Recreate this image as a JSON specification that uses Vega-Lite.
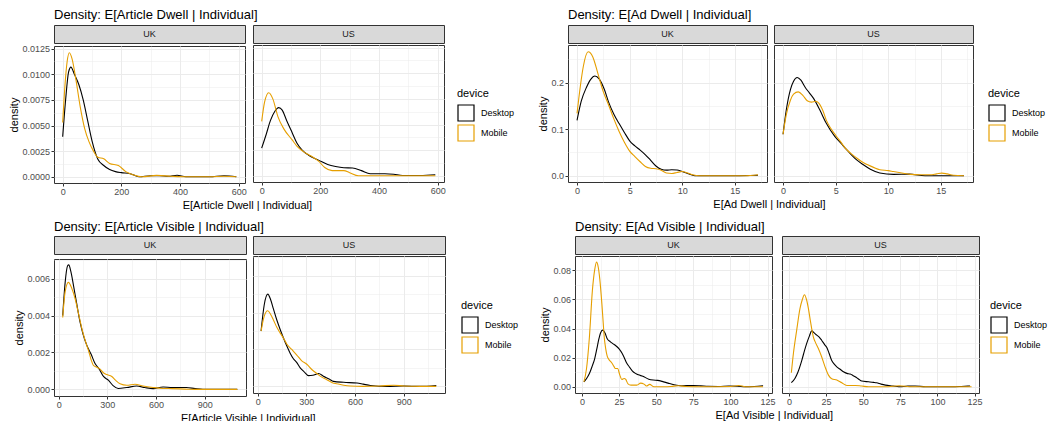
{
"$schema": "https://vega.github.io/schema/vega-lite/v6.json",
"padding": {"left": 8, "top": 8, "right": 0, "bottom": 0},
"config": {
 "font": "Liberation Sans",
 "view": {"stroke": "#333333", "strokeWidth": 1},
 "axis": {"domain": false, "labelFontSize": 9, "labelColor": "#4D4D4D", "tickColor": "#333333", "tickSize": 3, "labelPadding": 1.5, "gridColor": "#EBEBEB", "titleFontSize": 11, "titleFontWeight": "normal", "titleColor": "#000000", "labelOverlap": false, "labelFlush": false, "titlePadding": 2},
 "title": {"fontSize": 13, "fontWeight": "normal", "anchor": "start", "color": "#000000"},
 "legend": {"titleFontSize": 11, "titleFontWeight": "normal", "titleColor": "#000000", "labelFontSize": 9, "labelColor": "#000000", "symbolType": "square", "symbolSize": 256, "symbolStrokeWidth": 1.2, "symbolFillColor": "transparent", "rowPadding": -12, "titlePadding": 5, "labelOffset": 6}
},
"datasets": {
 "ad": [
  {"r":"UK","d":"Desktop","x":0,"y":0.0039},{"r":"UK","d":"Desktop","x":10,"y":0.0075},{"r":"UK","d":"Desktop","x":20,"y":0.0102},{"r":"UK","d":"Desktop","x":28,"y":0.0107},{"r":"UK","d":"Desktop","x":40,"y":0.0100},{"r":"UK","d":"Desktop","x":55,"y":0.0090},{"r":"UK","d":"Desktop","x":70,"y":0.0075},{"r":"UK","d":"Desktop","x":85,"y":0.0055},{"r":"UK","d":"Desktop","x":100,"y":0.0035},{"r":"UK","d":"Desktop","x":120,"y":0.0017},{"r":"UK","d":"Desktop","x":140,"y":0.0011},{"r":"UK","d":"Desktop","x":160,"y":0.0007},{"r":"UK","d":"Desktop","x":180,"y":0.0005},{"r":"UK","d":"Desktop","x":200,"y":0.0004},{"r":"UK","d":"Desktop","x":230,"y":0.0003},{"r":"UK","d":"Desktop","x":260,"y":0.0},{"r":"UK","d":"Desktop","x":300,"y":0.0001},{"r":"UK","d":"Desktop","x":330,"y":0.0001},{"r":"UK","d":"Desktop","x":360,"y":0.00005},{"r":"UK","d":"Desktop","x":390,"y":0.00015},{"r":"UK","d":"Desktop","x":420,"y":0.0},{"r":"UK","d":"Desktop","x":500,"y":0.0},{"r":"UK","d":"Desktop","x":550,"y":0.0001},{"r":"UK","d":"Desktop","x":592,"y":0.0},
  {"r":"UK","d":"Mobile","x":0,"y":0.0053},{"r":"UK","d":"Mobile","x":8,"y":0.0090},{"r":"UK","d":"Mobile","x":15,"y":0.0112},{"r":"UK","d":"Mobile","x":23,"y":0.0121},{"r":"UK","d":"Mobile","x":32,"y":0.0115},{"r":"UK","d":"Mobile","x":45,"y":0.0095},{"r":"UK","d":"Mobile","x":60,"y":0.0068},{"r":"UK","d":"Mobile","x":75,"y":0.0047},{"r":"UK","d":"Mobile","x":90,"y":0.0034},{"r":"UK","d":"Mobile","x":105,"y":0.0025},{"r":"UK","d":"Mobile","x":120,"y":0.0019},{"r":"UK","d":"Mobile","x":140,"y":0.00175},{"r":"UK","d":"Mobile","x":160,"y":0.0013},{"r":"UK","d":"Mobile","x":190,"y":0.0011},{"r":"UK","d":"Mobile","x":215,"y":0.0005},{"r":"UK","d":"Mobile","x":240,"y":0.0002},{"r":"UK","d":"Mobile","x":270,"y":0.0},{"r":"UK","d":"Mobile","x":320,"y":0.00013},{"r":"UK","d":"Mobile","x":370,"y":0.00005},{"r":"UK","d":"Mobile","x":420,"y":0.0},{"r":"UK","d":"Mobile","x":500,"y":0.0},{"r":"UK","d":"Mobile","x":550,"y":0.00005},{"r":"UK","d":"Mobile","x":592,"y":0.0},
  {"r":"US","d":"Desktop","x":0,"y":0.0027},{"r":"US","d":"Desktop","x":15,"y":0.0040},{"r":"US","d":"Desktop","x":30,"y":0.0054},{"r":"US","d":"Desktop","x":45,"y":0.0063},{"r":"US","d":"Desktop","x":58,"y":0.00665},{"r":"US","d":"Desktop","x":70,"y":0.0064},{"r":"US","d":"Desktop","x":85,"y":0.0054},{"r":"US","d":"Desktop","x":104,"y":0.0042},{"r":"US","d":"Desktop","x":120,"y":0.0032},{"r":"US","d":"Desktop","x":138,"y":0.0025},{"r":"US","d":"Desktop","x":160,"y":0.0020},{"r":"US","d":"Desktop","x":195,"y":0.0015},{"r":"US","d":"Desktop","x":225,"y":0.0011},{"r":"US","d":"Desktop","x":252,"y":0.0009},{"r":"US","d":"Desktop","x":280,"y":0.00078},{"r":"US","d":"Desktop","x":310,"y":0.00075},{"r":"US","d":"Desktop","x":340,"y":0.0005},{"r":"US","d":"Desktop","x":370,"y":0.0002},{"r":"US","d":"Desktop","x":420,"y":0.0002},{"r":"US","d":"Desktop","x":450,"y":0.00015},{"r":"US","d":"Desktop","x":480,"y":0.00002},{"r":"US","d":"Desktop","x":540,"y":0.00003},{"r":"US","d":"Desktop","x":592,"y":0.0001},
  {"r":"US","d":"Mobile","x":0,"y":0.0053},{"r":"US","d":"Mobile","x":10,"y":0.0072},{"r":"US","d":"Mobile","x":24,"y":0.0081},{"r":"US","d":"Mobile","x":38,"y":0.0075},{"r":"US","d":"Mobile","x":55,"y":0.0058},{"r":"US","d":"Mobile","x":75,"y":0.0046},{"r":"US","d":"Mobile","x":104,"y":0.0035},{"r":"US","d":"Mobile","x":120,"y":0.0029},{"r":"US","d":"Mobile","x":140,"y":0.0024},{"r":"US","d":"Mobile","x":170,"y":0.0019},{"r":"US","d":"Mobile","x":195,"y":0.0014},{"r":"US","d":"Mobile","x":215,"y":0.0008},{"r":"US","d":"Mobile","x":240,"y":0.0005},{"r":"US","d":"Mobile","x":280,"y":0.0005},{"r":"US","d":"Mobile","x":300,"y":0.0003},{"r":"US","d":"Mobile","x":330,"y":0.0},{"r":"US","d":"Mobile","x":400,"y":0.0},{"r":"US","d":"Mobile","x":592,"y":0.0}
 ],
 "dd": [
  {"r":"UK","d":"Desktop","x":0,"y":0.119},{"r":"UK","d":"Desktop","x":0.4,"y":0.16},{"r":"UK","d":"Desktop","x":0.9,"y":0.19},{"r":"UK","d":"Desktop","x":1.3,"y":0.207},{"r":"UK","d":"Desktop","x":1.7,"y":0.214},{"r":"UK","d":"Desktop","x":2.1,"y":0.208},{"r":"UK","d":"Desktop","x":2.6,"y":0.185},{"r":"UK","d":"Desktop","x":3.0,"y":0.158},{"r":"UK","d":"Desktop","x":3.5,"y":0.132},{"r":"UK","d":"Desktop","x":4.0,"y":0.112},{"r":"UK","d":"Desktop","x":4.5,"y":0.093},{"r":"UK","d":"Desktop","x":5.0,"y":0.075},{"r":"UK","d":"Desktop","x":5.5,"y":0.064},{"r":"UK","d":"Desktop","x":6.0,"y":0.055},{"r":"UK","d":"Desktop","x":6.5,"y":0.045},{"r":"UK","d":"Desktop","x":7.0,"y":0.033},{"r":"UK","d":"Desktop","x":7.5,"y":0.021},{"r":"UK","d":"Desktop","x":8.0,"y":0.014},{"r":"UK","d":"Desktop","x":8.5,"y":0.012},{"r":"UK","d":"Desktop","x":9.0,"y":0.013},{"r":"UK","d":"Desktop","x":9.5,"y":0.0125},{"r":"UK","d":"Desktop","x":10,"y":0.009},{"r":"UK","d":"Desktop","x":10.5,"y":0.005},{"r":"UK","d":"Desktop","x":11.2,"y":0.0},{"r":"UK","d":"Desktop","x":13,"y":0.0},{"r":"UK","d":"Desktop","x":15,"y":0.0},{"r":"UK","d":"Desktop","x":17.2,"y":0.001},
  {"r":"UK","d":"Mobile","x":0,"y":0.134},{"r":"UK","d":"Mobile","x":0.3,"y":0.19},{"r":"UK","d":"Mobile","x":0.6,"y":0.235},{"r":"UK","d":"Mobile","x":1.05,"y":0.266},{"r":"UK","d":"Mobile","x":1.5,"y":0.255},{"r":"UK","d":"Mobile","x":2.0,"y":0.218},{"r":"UK","d":"Mobile","x":2.5,"y":0.18},{"r":"UK","d":"Mobile","x":3.0,"y":0.152},{"r":"UK","d":"Mobile","x":3.5,"y":0.122},{"r":"UK","d":"Mobile","x":4.0,"y":0.095},{"r":"UK","d":"Mobile","x":4.5,"y":0.072},{"r":"UK","d":"Mobile","x":5.0,"y":0.053},{"r":"UK","d":"Mobile","x":5.5,"y":0.041},{"r":"UK","d":"Mobile","x":6.0,"y":0.03},{"r":"UK","d":"Mobile","x":6.5,"y":0.02},{"r":"UK","d":"Mobile","x":7.0,"y":0.016},{"r":"UK","d":"Mobile","x":7.5,"y":0.015},{"r":"UK","d":"Mobile","x":8.0,"y":0.012},{"r":"UK","d":"Mobile","x":8.5,"y":0.006},{"r":"UK","d":"Mobile","x":9.0,"y":0.005},{"r":"UK","d":"Mobile","x":9.5,"y":0.007},{"r":"UK","d":"Mobile","x":10.0,"y":0.009},{"r":"UK","d":"Mobile","x":10.5,"y":0.006},{"r":"UK","d":"Mobile","x":11.0,"y":0.002},{"r":"UK","d":"Mobile","x":11.6,"y":0.0},{"r":"UK","d":"Mobile","x":13,"y":0.0},{"r":"UK","d":"Mobile","x":16,"y":0.0},{"r":"UK","d":"Mobile","x":17.2,"y":0.002},
  {"r":"US","d":"Desktop","x":0,"y":0.089},{"r":"US","d":"Desktop","x":0.3,"y":0.14},{"r":"US","d":"Desktop","x":0.7,"y":0.185},{"r":"US","d":"Desktop","x":1.0,"y":0.203},{"r":"US","d":"Desktop","x":1.35,"y":0.211},{"r":"US","d":"Desktop","x":1.7,"y":0.205},{"r":"US","d":"Desktop","x":2.1,"y":0.19},{"r":"US","d":"Desktop","x":2.5,"y":0.178},{"r":"US","d":"Desktop","x":2.9,"y":0.166},{"r":"US","d":"Desktop","x":3.5,"y":0.141},{"r":"US","d":"Desktop","x":4.1,"y":0.113},{"r":"US","d":"Desktop","x":4.9,"y":0.085},{"r":"US","d":"Desktop","x":5.5,"y":0.07},{"r":"US","d":"Desktop","x":6.0,"y":0.057},{"r":"US","d":"Desktop","x":6.5,"y":0.045},{"r":"US","d":"Desktop","x":7.0,"y":0.034},{"r":"US","d":"Desktop","x":7.6,"y":0.024},{"r":"US","d":"Desktop","x":8.3,"y":0.014},{"r":"US","d":"Desktop","x":9.2,"y":0.006},{"r":"US","d":"Desktop","x":10.5,"y":0.003},{"r":"US","d":"Desktop","x":12.0,"y":0.0035},{"r":"US","d":"Desktop","x":13.5,"y":0.0},{"r":"US","d":"Desktop","x":15,"y":0.0},{"r":"US","d":"Desktop","x":17.2,"y":0.0},
  {"r":"US","d":"Mobile","x":0,"y":0.089},{"r":"US","d":"Mobile","x":0.3,"y":0.13},{"r":"US","d":"Mobile","x":0.7,"y":0.162},{"r":"US","d":"Mobile","x":1.0,"y":0.175},{"r":"US","d":"Mobile","x":1.45,"y":0.18},{"r":"US","d":"Mobile","x":1.9,"y":0.172},{"r":"US","d":"Mobile","x":2.3,"y":0.161},{"r":"US","d":"Mobile","x":2.7,"y":0.158},{"r":"US","d":"Mobile","x":3.1,"y":0.16},{"r":"US","d":"Mobile","x":3.4,"y":0.156},{"r":"US","d":"Mobile","x":3.8,"y":0.139},{"r":"US","d":"Mobile","x":4.1,"y":0.12},{"r":"US","d":"Mobile","x":4.5,"y":0.103},{"r":"US","d":"Mobile","x":5.0,"y":0.087},{"r":"US","d":"Mobile","x":5.5,"y":0.072},{"r":"US","d":"Mobile","x":6.0,"y":0.057},{"r":"US","d":"Mobile","x":6.5,"y":0.047},{"r":"US","d":"Mobile","x":7.0,"y":0.038},{"r":"US","d":"Mobile","x":7.5,"y":0.03},{"r":"US","d":"Mobile","x":8.0,"y":0.024},{"r":"US","d":"Mobile","x":8.6,"y":0.018},{"r":"US","d":"Mobile","x":9.2,"y":0.013},{"r":"US","d":"Mobile","x":10.0,"y":0.011},{"r":"US","d":"Mobile","x":10.5,"y":0.009},{"r":"US","d":"Mobile","x":11.3,"y":0.006},{"r":"US","d":"Mobile","x":12.1,"y":0.003},{"r":"US","d":"Mobile","x":13.0,"y":0.002},{"r":"US","d":"Mobile","x":14.0,"y":0.002},{"r":"US","d":"Mobile","x":14.6,"y":0.004},{"r":"US","d":"Mobile","x":15.1,"y":0.0057},{"r":"US","d":"Mobile","x":15.6,"y":0.004},{"r":"US","d":"Mobile","x":16.2,"y":0.001},{"r":"US","d":"Mobile","x":17.2,"y":0.0}
 ],
 "av": [
  {"r":"UK","d":"Desktop","x":25,"y":0.0040},{"r":"UK","d":"Desktop","x":40,"y":0.0058},{"r":"UK","d":"Desktop","x":55,"y":0.0067},{"r":"UK","d":"Desktop","x":62,"y":0.00675},{"r":"UK","d":"Desktop","x":75,"y":0.0064},{"r":"UK","d":"Desktop","x":92,"y":0.0056},{"r":"UK","d":"Desktop","x":110,"y":0.0047},{"r":"UK","d":"Desktop","x":133,"y":0.0036},{"r":"UK","d":"Desktop","x":150,"y":0.0030},{"r":"UK","d":"Desktop","x":173,"y":0.0024},{"r":"UK","d":"Desktop","x":200,"y":0.0019},{"r":"UK","d":"Desktop","x":224,"y":0.0014},{"r":"UK","d":"Desktop","x":250,"y":0.0011},{"r":"UK","d":"Desktop","x":276,"y":0.0007},{"r":"UK","d":"Desktop","x":306,"y":0.0005},{"r":"UK","d":"Desktop","x":335,"y":0.0002},{"r":"UK","d":"Desktop","x":367,"y":0.00005},{"r":"UK","d":"Desktop","x":420,"y":0.0001},{"r":"UK","d":"Desktop","x":480,"y":0.00018},{"r":"UK","d":"Desktop","x":530,"y":0.0001},{"r":"UK","d":"Desktop","x":582,"y":0.00004},{"r":"UK","d":"Desktop","x":643,"y":0.00013},{"r":"UK","d":"Desktop","x":700,"y":0.0001},{"r":"UK","d":"Desktop","x":786,"y":0.0001},{"r":"UK","d":"Desktop","x":840,"y":0.00004},{"r":"UK","d":"Desktop","x":888,"y":0.0},{"r":"UK","d":"Desktop","x":1000,"y":0.0},{"r":"UK","d":"Desktop","x":1100,"y":0.0},
  {"r":"UK","d":"Mobile","x":25,"y":0.0039},{"r":"UK","d":"Mobile","x":40,"y":0.0053},{"r":"UK","d":"Mobile","x":60,"y":0.0058},{"r":"UK","d":"Mobile","x":80,"y":0.0055},{"r":"UK","d":"Mobile","x":102,"y":0.0049},{"r":"UK","d":"Mobile","x":120,"y":0.0042},{"r":"UK","d":"Mobile","x":143,"y":0.0033},{"r":"UK","d":"Mobile","x":165,"y":0.0026},{"r":"UK","d":"Mobile","x":184,"y":0.0021},{"r":"UK","d":"Mobile","x":200,"y":0.0016},{"r":"UK","d":"Mobile","x":214,"y":0.0013},{"r":"UK","d":"Mobile","x":235,"y":0.0012},{"r":"UK","d":"Mobile","x":255,"y":0.0011},{"r":"UK","d":"Mobile","x":275,"y":0.0009},{"r":"UK","d":"Mobile","x":296,"y":0.0008},{"r":"UK","d":"Mobile","x":327,"y":0.0007},{"r":"UK","d":"Mobile","x":350,"y":0.0005},{"r":"UK","d":"Mobile","x":378,"y":0.0003},{"r":"UK","d":"Mobile","x":420,"y":0.00022},{"r":"UK","d":"Mobile","x":470,"y":0.00028},{"r":"UK","d":"Mobile","x":520,"y":0.00018},{"r":"UK","d":"Mobile","x":582,"y":0.0001},{"r":"UK","d":"Mobile","x":640,"y":0.00005},{"r":"UK","d":"Mobile","x":700,"y":0.00004},{"r":"UK","d":"Mobile","x":800,"y":0.00001},{"r":"UK","d":"Mobile","x":888,"y":0.0},{"r":"UK","d":"Mobile","x":1000,"y":0.0},{"r":"UK","d":"Mobile","x":1100,"y":0.0},
  {"r":"US","d":"Desktop","x":21,"y":0.0030},{"r":"US","d":"Desktop","x":40,"y":0.0044},{"r":"US","d":"Desktop","x":62,"y":0.0050},{"r":"US","d":"Desktop","x":80,"y":0.0047},{"r":"US","d":"Desktop","x":97,"y":0.0042},{"r":"US","d":"Desktop","x":118,"y":0.0036},{"r":"US","d":"Desktop","x":138,"y":0.0031},{"r":"US","d":"Desktop","x":160,"y":0.0026},{"r":"US","d":"Desktop","x":179,"y":0.0022},{"r":"US","d":"Desktop","x":200,"y":0.0018},{"r":"US","d":"Desktop","x":220,"y":0.0015},{"r":"US","d":"Desktop","x":240,"y":0.0013},{"r":"US","d":"Desktop","x":262,"y":0.0010},{"r":"US","d":"Desktop","x":285,"y":0.0008},{"r":"US","d":"Desktop","x":313,"y":0.00058},{"r":"US","d":"Desktop","x":340,"y":0.0006},{"r":"US","d":"Desktop","x":375,"y":0.0007},{"r":"US","d":"Desktop","x":405,"y":0.00055},{"r":"US","d":"Desktop","x":440,"y":0.0004},{"r":"US","d":"Desktop","x":467,"y":0.00027},{"r":"US","d":"Desktop","x":530,"y":0.00022},{"r":"US","d":"Desktop","x":612,"y":0.00018},{"r":"US","d":"Desktop","x":650,"y":0.00012},{"r":"US","d":"Desktop","x":694,"y":0.00005},{"r":"US","d":"Desktop","x":797,"y":0.0},{"r":"US","d":"Desktop","x":900,"y":0.00002},{"r":"US","d":"Desktop","x":1000,"y":0.0},{"r":"US","d":"Desktop","x":1100,"y":0.00005},
  {"r":"US","d":"Mobile","x":21,"y":0.0030},{"r":"US","d":"Mobile","x":40,"y":0.0038},{"r":"US","d":"Mobile","x":62,"y":0.0041},{"r":"US","d":"Mobile","x":80,"y":0.0039},{"r":"US","d":"Mobile","x":97,"y":0.0036},{"r":"US","d":"Mobile","x":118,"y":0.0032},{"r":"US","d":"Mobile","x":138,"y":0.0029},{"r":"US","d":"Mobile","x":160,"y":0.0026},{"r":"US","d":"Mobile","x":179,"y":0.0023},{"r":"US","d":"Mobile","x":210,"y":0.0020},{"r":"US","d":"Mobile","x":241,"y":0.0017},{"r":"US","d":"Mobile","x":270,"y":0.0014},{"r":"US","d":"Mobile","x":303,"y":0.0012},{"r":"US","d":"Mobile","x":335,"y":0.0009},{"r":"US","d":"Mobile","x":364,"y":0.0007},{"r":"US","d":"Mobile","x":395,"y":0.0005},{"r":"US","d":"Mobile","x":426,"y":0.00036},{"r":"US","d":"Mobile","x":460,"y":0.0002},{"r":"US","d":"Mobile","x":488,"y":0.00014},{"r":"US","d":"Mobile","x":530,"y":0.00006},{"r":"US","d":"Mobile","x":571,"y":0.00002},{"r":"US","d":"Mobile","x":650,"y":0.0},{"r":"US","d":"Mobile","x":750,"y":0.00002},{"r":"US","d":"Mobile","x":838,"y":0.00006},{"r":"US","d":"Mobile","x":900,"y":0.00002},{"r":"US","d":"Mobile","x":1000,"y":0.0},{"r":"US","d":"Mobile","x":1100,"y":0.0}
 ],
 "vv": [
  {"r":"UK","d":"Desktop","x":1.3,"y":0.0034},{"r":"UK","d":"Desktop","x":3,"y":0.0055},{"r":"UK","d":"Desktop","x":5,"y":0.0091},{"r":"UK","d":"Desktop","x":7,"y":0.0145},{"r":"UK","d":"Desktop","x":8.5,"y":0.019},{"r":"UK","d":"Desktop","x":10,"y":0.026},{"r":"UK","d":"Desktop","x":11.2,"y":0.032},{"r":"UK","d":"Desktop","x":12.5,"y":0.037},{"r":"UK","d":"Desktop","x":14,"y":0.0389},{"r":"UK","d":"Desktop","x":15.5,"y":0.037},{"r":"UK","d":"Desktop","x":17,"y":0.033},{"r":"UK","d":"Desktop","x":19,"y":0.031},{"r":"UK","d":"Desktop","x":21,"y":0.0295},{"r":"UK","d":"Desktop","x":23,"y":0.028},{"r":"UK","d":"Desktop","x":25,"y":0.026},{"r":"UK","d":"Desktop","x":27,"y":0.023},{"r":"UK","d":"Desktop","x":28.5,"y":0.020},{"r":"UK","d":"Desktop","x":30,"y":0.0165},{"r":"UK","d":"Desktop","x":32,"y":0.0135},{"r":"UK","d":"Desktop","x":34,"y":0.0108},{"r":"UK","d":"Desktop","x":36,"y":0.0092},{"r":"UK","d":"Desktop","x":38,"y":0.0082},{"r":"UK","d":"Desktop","x":41,"y":0.0072},{"r":"UK","d":"Desktop","x":45,"y":0.0052},{"r":"UK","d":"Desktop","x":48,"y":0.0046},{"r":"UK","d":"Desktop","x":51,"y":0.0044},{"r":"UK","d":"Desktop","x":54,"y":0.0037},{"r":"UK","d":"Desktop","x":58,"y":0.0025},{"r":"UK","d":"Desktop","x":62,"y":0.0014},{"r":"UK","d":"Desktop","x":67,"y":0.0007},{"r":"UK","d":"Desktop","x":75,"y":0.0008},{"r":"UK","d":"Desktop","x":80,"y":0.0006},{"r":"UK","d":"Desktop","x":85,"y":0.0003},{"r":"UK","d":"Desktop","x":92,"y":0.0002},{"r":"UK","d":"Desktop","x":99,"y":0.0005},{"r":"UK","d":"Desktop","x":105,"y":0.0003},{"r":"UK","d":"Desktop","x":110,"y":0.0},{"r":"UK","d":"Desktop","x":116,"y":0.0002},{"r":"UK","d":"Desktop","x":122,"y":0.0007},
  {"r":"UK","d":"Mobile","x":1.3,"y":0.0034},{"r":"UK","d":"Mobile","x":3,"y":0.012},{"r":"UK","d":"Mobile","x":5,"y":0.034},{"r":"UK","d":"Mobile","x":7,"y":0.066},{"r":"UK","d":"Mobile","x":8.5,"y":0.080},{"r":"UK","d":"Mobile","x":9.8,"y":0.0857},{"r":"UK","d":"Mobile","x":11,"y":0.082},{"r":"UK","d":"Mobile","x":12,"y":0.074},{"r":"UK","d":"Mobile","x":13.4,"y":0.057},{"r":"UK","d":"Mobile","x":14.3,"y":0.044},{"r":"UK","d":"Mobile","x":15,"y":0.034},{"r":"UK","d":"Mobile","x":16,"y":0.026},{"r":"UK","d":"Mobile","x":17,"y":0.021},{"r":"UK","d":"Mobile","x":18.3,"y":0.0185},{"r":"UK","d":"Mobile","x":20,"y":0.0165},{"r":"UK","d":"Mobile","x":21.5,"y":0.014},{"r":"UK","d":"Mobile","x":22.5,"y":0.0125},{"r":"UK","d":"Mobile","x":24,"y":0.0125},{"r":"UK","d":"Mobile","x":25.5,"y":0.008},{"r":"UK","d":"Mobile","x":26.8,"y":0.005},{"r":"UK","d":"Mobile","x":28.4,"y":0.0057},{"r":"UK","d":"Mobile","x":29.5,"y":0.005},{"r":"UK","d":"Mobile","x":31,"y":0.002},{"r":"UK","d":"Mobile","x":33,"y":0.0011},{"r":"UK","d":"Mobile","x":37,"y":0.0011},{"r":"UK","d":"Mobile","x":39.5,"y":0.0025},{"r":"UK","d":"Mobile","x":41.8,"y":0.0018},{"r":"UK","d":"Mobile","x":43.4,"y":0.0005},{"r":"UK","d":"Mobile","x":45.6,"y":0.0016},{"r":"UK","d":"Mobile","x":48.5,"y":0.0},{"r":"UK","d":"Mobile","x":55,"y":0.0},{"r":"UK","d":"Mobile","x":60,"y":0.0002},{"r":"UK","d":"Mobile","x":65,"y":0.0007},{"r":"UK","d":"Mobile","x":70,"y":0.0002},{"r":"UK","d":"Mobile","x":80,"y":0.0},{"r":"UK","d":"Mobile","x":100,"y":0.0002},{"r":"UK","d":"Mobile","x":105.6,"y":0.0009},{"r":"UK","d":"Mobile","x":110,"y":0.0},{"r":"UK","d":"Mobile","x":122,"y":0.0},
  {"r":"US","d":"Desktop","x":1.6,"y":0.0028},{"r":"US","d":"Desktop","x":4,"y":0.0057},{"r":"US","d":"Desktop","x":6,"y":0.010},{"r":"US","d":"Desktop","x":8.6,"y":0.018},{"r":"US","d":"Desktop","x":10.5,"y":0.025},{"r":"US","d":"Desktop","x":12,"y":0.030},{"r":"US","d":"Desktop","x":13.8,"y":0.035},{"r":"US","d":"Desktop","x":15.3,"y":0.0384},{"r":"US","d":"Desktop","x":17,"y":0.037},{"r":"US","d":"Desktop","x":18.7,"y":0.0355},{"r":"US","d":"Desktop","x":20.5,"y":0.034},{"r":"US","d":"Desktop","x":22,"y":0.032},{"r":"US","d":"Desktop","x":24,"y":0.029},{"r":"US","d":"Desktop","x":25.5,"y":0.027},{"r":"US","d":"Desktop","x":27,"y":0.023},{"r":"US","d":"Desktop","x":28.8,"y":0.018},{"r":"US","d":"Desktop","x":30.5,"y":0.0155},{"r":"US","d":"Desktop","x":32.2,"y":0.0137},{"r":"US","d":"Desktop","x":34.5,"y":0.012},{"r":"US","d":"Desktop","x":36.7,"y":0.0103},{"r":"US","d":"Desktop","x":39,"y":0.0092},{"r":"US","d":"Desktop","x":41.2,"y":0.0087},{"r":"US","d":"Desktop","x":43,"y":0.0078},{"r":"US","d":"Desktop","x":44.6,"y":0.0069},{"r":"US","d":"Desktop","x":47,"y":0.0052},{"r":"US","d":"Desktop","x":49,"y":0.0039},{"r":"US","d":"Desktop","x":53.6,"y":0.0034},{"r":"US","d":"Desktop","x":57,"y":0.003},{"r":"US","d":"Desktop","x":59,"y":0.0027},{"r":"US","d":"Desktop","x":62,"y":0.0018},{"r":"US","d":"Desktop","x":65,"y":0.0011},{"r":"US","d":"Desktop","x":70,"y":0.0005},{"r":"US","d":"Desktop","x":74,"y":0.0},{"r":"US","d":"Desktop","x":80,"y":0.0004},{"r":"US","d":"Desktop","x":85,"y":0.0005},{"r":"US","d":"Desktop","x":92,"y":0.0},{"r":"US","d":"Desktop","x":100,"y":0.0},{"r":"US","d":"Desktop","x":110,"y":0.0},{"r":"US","d":"Desktop","x":116,"y":0.0002},{"r":"US","d":"Desktop","x":122,"y":0.0005},
  {"r":"US","d":"Mobile","x":1.6,"y":0.0096},{"r":"US","d":"Mobile","x":3,"y":0.023},{"r":"US","d":"Mobile","x":5.2,"y":0.0389},{"r":"US","d":"Mobile","x":7.4,"y":0.0537},{"r":"US","d":"Mobile","x":9,"y":0.060},{"r":"US","d":"Mobile","x":10.4,"y":0.0633},{"r":"US","d":"Mobile","x":11.8,"y":0.060},{"r":"US","d":"Mobile","x":13.1,"y":0.0537},{"r":"US","d":"Mobile","x":14.3,"y":0.046},{"r":"US","d":"Mobile","x":15.3,"y":0.040},{"r":"US","d":"Mobile","x":16.5,"y":0.034},{"r":"US","d":"Mobile","x":17.6,"y":0.031},{"r":"US","d":"Mobile","x":19.8,"y":0.0263},{"r":"US","d":"Mobile","x":22,"y":0.0206},{"r":"US","d":"Mobile","x":24.3,"y":0.0137},{"r":"US","d":"Mobile","x":26.6,"y":0.008},{"r":"US","d":"Mobile","x":28.8,"y":0.0055},{"r":"US","d":"Mobile","x":32.2,"y":0.0046},{"r":"US","d":"Mobile","x":35.6,"y":0.0027},{"r":"US","d":"Mobile","x":39,"y":0.0009},{"r":"US","d":"Mobile","x":44.6,"y":0.0009},{"r":"US","d":"Mobile","x":49,"y":0.0005},{"r":"US","d":"Mobile","x":53.6,"y":0.0},{"r":"US","d":"Mobile","x":65,"y":0.0},{"r":"US","d":"Mobile","x":74.3,"y":0.0007},{"r":"US","d":"Mobile","x":83,"y":0.0},{"r":"US","d":"Mobile","x":100,"y":0.0},{"r":"US","d":"Mobile","x":123,"y":0.0}
 ]
},
"columns": 1,
"align": "none",
"spacing": 9,
"resolve": {"scale": {"color": "independent"}, "legend": {"color": "independent"}},
"concat": [
 {
  "spacing": 22,
  "resolve": {"scale": {"color": "independent"}, "legend": {"color": "independent"}},
  "hconcat": [
   {
    "title": {"text": "Density: E[Article Dwell | Individual]", "offset": 3, "frame": "group"},
    "spacing": 0,
    "vconcat": [{
     "title": {"text": "E[Article Dwell | Individual]", "orient": "bottom", "anchor": "start", "frame": "group", "offset": 3, "fontSize": 11, "dx": 128.7},
     "spacing": 5,
     "hconcat": [
      {"spacing": 0, "vconcat": [
       {"width": 191, "height": 18, "data": {"values": [{"r": "UK"}]}, "mark": {"type": "text", "fontSize": 9, "color": "#1A1A1A"}, "encoding": {"text": {"field": "r", "type": "nominal"}}, "view": {"fill": "#D9D9D9", "stroke": "#333333"}},
       {"width": 191, "height": 137, "data": {"name": "ad"}, "transform": [{"filter": "datum.r == 'UK'"}],
        "mark": {"type": "line", "interpolate": "monotone", "strokeWidth": 1.1, "clip": true},
        "encoding": {
         "x": {"field": "x", "type": "quantitative", "scale": {"domain": [-29.6, 621.6], "nice": false, "zero": false},
               "axis": {"title": null, "values": [0,100,200,300,400,500,600], "labelExpr": "datum.value % 200 == 0 ? datum.label : ''", "tickColor": {"condition": {"test": "datum.value % 200 != 0", "value": "transparent"}, "value": "#333333"}, "gridWidth": {"condition": {"test": "datum.value % 200 != 0", "value": 0.5}, "value": 1}}},
         "y": {"field": "y", "type": "quantitative", "scale": {"domain": [-0.00061, 0.01276], "nice": false, "zero": false},
               "axis": {"title": "density", "format": ".4f", "values": [0,0.00125,0.0025,0.00375,0.005,0.00625,0.0075,0.00875,0.01,0.01125,0.0125], "labelExpr": "abs(datum.value/0.0025 - round(datum.value/0.0025)) < 0.01 ? datum.label : ''", "tickColor": {"condition": {"test": "abs(datum.value/0.0025 - round(datum.value/0.0025)) > 0.01", "value": "transparent"}, "value": "#333333"}, "gridWidth": {"condition": {"test": "abs(datum.value/0.0025 - round(datum.value/0.0025)) > 0.01", "value": 0.5}, "value": 1}}},
         "color": {"field": "d", "type": "nominal", "scale": {"domain": ["Desktop", "Mobile"], "range": ["#000000", "#E69F00"]}, "legend": {"title": "device", "orient": "none", "legendX": 403, "legendY": 63}}
        }}
      ]},
      {"spacing": 0, "vconcat": [
       {"width": 191, "height": 18, "data": {"values": [{"r": "US"}]}, "mark": {"type": "text", "fontSize": 9, "color": "#1A1A1A"}, "encoding": {"text": {"field": "r", "type": "nominal"}}, "view": {"fill": "#D9D9D9", "stroke": "#333333"}},
       {"width": 191, "height": 137, "data": {"name": "ad"}, "transform": [{"filter": "datum.r == 'US'"}],
        "mark": {"type": "line", "interpolate": "monotone", "strokeWidth": 1.1, "clip": true},
        "encoding": {
         "x": {"field": "x", "type": "quantitative", "scale": {"domain": [-29.6, 621.6], "nice": false, "zero": false},
               "axis": {"title": null, "values": [0,100,200,300,400,500,600], "labelExpr": "datum.value % 200 == 0 ? datum.label : ''", "tickColor": {"condition": {"test": "datum.value % 200 != 0", "value": "transparent"}, "value": "#333333"}, "gridWidth": {"condition": {"test": "datum.value % 200 != 0", "value": 0.5}, "value": 1}}},
         "y": {"field": "y", "type": "quantitative", "scale": {"domain": [-0.00061, 0.01276], "nice": false, "zero": false},
               "axis": {"title": null, "labels": false, "ticks": false, "values": [0,0.00125,0.0025,0.00375,0.005,0.00625,0.0075,0.00875,0.01,0.01125,0.0125], "gridWidth": {"condition": {"test": "abs(datum.value/0.0025 - round(datum.value/0.0025)) > 0.01", "value": 0.5}, "value": 1}}},
         "color": {"field": "d", "type": "nominal", "scale": {"domain": ["Desktop", "Mobile"], "range": ["#000000", "#E69F00"]}, "legend": {"title": "device", "orient": "none", "legendX": 403, "legendY": 63}}
        }}
      ]}
     ]
    }]
   },
   {
    "title": {"text": "Density: E[Ad Dwell | Individual]", "offset": 3, "frame": "group"},
    "spacing": 0,
    "vconcat": [{
     "title": {"text": "E[Ad Dwell | Individual]", "orient": "bottom", "anchor": "start", "frame": "group", "offset": 3, "fontSize": 11, "dx": 145.3},
     "spacing": 5,
     "hconcat": [
      {"spacing": 0, "vconcat": [
       {"width": 199, "height": 18, "data": {"values": [{"r": "UK"}]}, "mark": {"type": "text", "fontSize": 9, "color": "#1A1A1A"}, "encoding": {"text": {"field": "r", "type": "nominal"}}, "view": {"fill": "#D9D9D9", "stroke": "#333333"}},
       {"width": 199, "height": 137, "data": {"name": "dd"}, "transform": [{"filter": "datum.r == 'UK'"}],
        "mark": {"type": "line", "interpolate": "monotone", "strokeWidth": 1.1, "clip": true},
        "encoding": {
         "x": {"field": "x", "type": "quantitative", "scale": {"domain": [-0.86, 18.06], "nice": false, "zero": false},
               "axis": {"title": null, "values": [0,2.5,5,7.5,10,12.5,15,17.5], "labelExpr": "datum.value % 5 == 0 ? datum.label : ''", "tickColor": {"condition": {"test": "datum.value % 5 != 0", "value": "transparent"}, "value": "#333333"}, "gridWidth": {"condition": {"test": "datum.value % 5 != 0", "value": 0.5}, "value": 1}}},
         "y": {"field": "y", "type": "quantitative", "scale": {"domain": [-0.0134, 0.2806], "nice": false, "zero": false},
               "axis": {"title": "density", "format": ".1f", "values": [0,0.05,0.1,0.15,0.2,0.25], "labelExpr": "abs(datum.value/0.1 - round(datum.value/0.1)) < 0.01 ? datum.label : ''", "tickColor": {"condition": {"test": "abs(datum.value/0.1 - round(datum.value/0.1)) > 0.01", "value": "transparent"}, "value": "#333333"}, "gridWidth": {"condition": {"test": "abs(datum.value/0.1 - round(datum.value/0.1)) > 0.01", "value": 0.5}, "value": 1}}},
         "color": {"field": "d", "type": "nominal", "scale": {"domain": ["Desktop", "Mobile"], "range": ["#000000", "#E69F00"]}, "legend": {"title": "device", "orient": "none", "legendX": 420, "legendY": 63}}
        }}
      ]},
      {"spacing": 0, "vconcat": [
       {"width": 199, "height": 18, "data": {"values": [{"r": "US"}]}, "mark": {"type": "text", "fontSize": 9, "color": "#1A1A1A"}, "encoding": {"text": {"field": "r", "type": "nominal"}}, "view": {"fill": "#D9D9D9", "stroke": "#333333"}},
       {"width": 199, "height": 137, "data": {"name": "dd"}, "transform": [{"filter": "datum.r == 'US'"}],
        "mark": {"type": "line", "interpolate": "monotone", "strokeWidth": 1.1, "clip": true},
        "encoding": {
         "x": {"field": "x", "type": "quantitative", "scale": {"domain": [-0.86, 18.06], "nice": false, "zero": false},
               "axis": {"title": null, "values": [0,2.5,5,7.5,10,12.5,15,17.5], "labelExpr": "datum.value % 5 == 0 ? datum.label : ''", "tickColor": {"condition": {"test": "datum.value % 5 != 0", "value": "transparent"}, "value": "#333333"}, "gridWidth": {"condition": {"test": "datum.value % 5 != 0", "value": 0.5}, "value": 1}}},
         "y": {"field": "y", "type": "quantitative", "scale": {"domain": [-0.0134, 0.2806], "nice": false, "zero": false},
               "axis": {"title": null, "labels": false, "ticks": false, "values": [0,0.05,0.1,0.15,0.2,0.25], "gridWidth": {"condition": {"test": "abs(datum.value/0.1 - round(datum.value/0.1)) > 0.01", "value": 0.5}, "value": 1}}},
         "color": {"field": "d", "type": "nominal", "scale": {"domain": ["Desktop", "Mobile"], "range": ["#000000", "#E69F00"]}, "legend": {"title": "device", "orient": "none", "legendX": 420, "legendY": 63}}
        }}
      ]}
     ]
    }]
   }
  ]
 },
 {
  "spacing": 20,
  "resolve": {"scale": {"color": "independent"}, "legend": {"color": "independent"}},
  "hconcat": [
   {
    "title": {"text": "Density: E[Article Visible | Individual]", "offset": 2, "frame": "group"},
    "spacing": 0,
    "vconcat": [{
     "title": {"text": "E[Article Visible | Individual]", "orient": "bottom", "anchor": "start", "frame": "group", "offset": 3, "fontSize": 11, "dx": 126.9},
     "spacing": 5,
     "hconcat": [
      {"spacing": 0, "vconcat": [
       {"width": 192, "height": 18, "data": {"values": [{"r": "UK"}]}, "mark": {"type": "text", "fontSize": 9, "color": "#1A1A1A"}, "encoding": {"text": {"field": "r", "type": "nominal"}}, "view": {"fill": "#D9D9D9", "stroke": "#333333"}},
       {"width": 192, "height": 137, "data": {"name": "av"}, "transform": [{"filter": "datum.r == 'UK'"}],
        "mark": {"type": "line", "interpolate": "monotone", "strokeWidth": 1.1, "clip": true},
        "encoding": {
         "x": {"field": "x", "type": "quantitative", "scale": {"domain": [-28.75, 1153.75], "nice": false, "zero": false},
               "axis": {"title": null, "values": [0,150,300,450,600,750,900,1050], "labelExpr": "datum.value % 300 == 0 ? datum.label : ''", "tickColor": {"condition": {"test": "datum.value % 300 != 0", "value": "transparent"}, "value": "#333333"}, "gridWidth": {"condition": {"test": "datum.value % 300 != 0", "value": 0.5}, "value": 1}}},
         "y": {"field": "y", "type": "quantitative", "scale": {"domain": [-0.00036, 0.00707], "nice": false, "zero": false},
               "axis": {"title": "density", "format": ".3f", "values": [0,0.001,0.002,0.003,0.004,0.005,0.006,0.007], "labelExpr": "abs(datum.value/0.002 - round(datum.value/0.002)) < 0.01 ? datum.label : ''", "tickColor": {"condition": {"test": "abs(datum.value/0.002 - round(datum.value/0.002)) > 0.01", "value": "transparent"}, "value": "#333333"}, "gridWidth": {"condition": {"test": "abs(datum.value/0.002 - round(datum.value/0.002)) > 0.01", "value": 0.5}, "value": 1}}},
         "color": {"field": "d", "type": "nominal", "scale": {"domain": ["Desktop", "Mobile"], "range": ["#000000", "#E69F00"]}, "legend": {"title": "device", "orient": "none", "legendX": 407, "legendY": 64}}
        }}
      ]},
      {"spacing": 0, "vconcat": [
       {"width": 192, "height": 18, "data": {"values": [{"r": "US"}]}, "mark": {"type": "text", "fontSize": 9, "color": "#1A1A1A"}, "encoding": {"text": {"field": "r", "type": "nominal"}}, "view": {"fill": "#D9D9D9", "stroke": "#333333"}},
       {"width": 192, "height": 137, "data": {"name": "av"}, "transform": [{"filter": "datum.r == 'US'"}],
        "mark": {"type": "line", "interpolate": "monotone", "strokeWidth": 1.1, "clip": true},
        "encoding": {
         "x": {"field": "x", "type": "quantitative", "scale": {"domain": [-28.75, 1153.75], "nice": false, "zero": false},
               "axis": {"title": null, "values": [0,150,300,450,600,750,900,1050], "labelExpr": "datum.value % 300 == 0 ? datum.label : ''", "tickColor": {"condition": {"test": "datum.value % 300 != 0", "value": "transparent"}, "value": "#333333"}, "gridWidth": {"condition": {"test": "datum.value % 300 != 0", "value": 0.5}, "value": 1}}},
         "y": {"field": "y", "type": "quantitative", "scale": {"domain": [-0.00036, 0.00707], "nice": false, "zero": false},
               "axis": {"title": null, "labels": false, "ticks": false, "values": [0,0.001,0.002,0.003,0.004,0.005,0.006,0.007], "gridWidth": {"condition": {"test": "abs(datum.value/0.002 - round(datum.value/0.002)) > 0.01", "value": 0.5}, "value": 1}}},
         "color": {"field": "d", "type": "nominal", "scale": {"domain": ["Desktop", "Mobile"], "range": ["#000000", "#E69F00"]}, "legend": {"title": "device", "orient": "none", "legendX": 407, "legendY": 64}}
        }}
      ]}
     ]
    }]
   },
   {
    "title": {"text": "Density: E[Ad Visible | Individual]", "offset": 2, "frame": "group"},
    "spacing": 0,
    "vconcat": [{
     "title": {"text": "E[Ad Visible | Individual]", "orient": "bottom", "anchor": "start", "frame": "group", "offset": 3, "fontSize": 11, "dx": 140.5},
     "spacing": 5,
     "hconcat": [
      {"spacing": 0, "vconcat": [
       {"width": 197, "height": 18, "data": {"values": [{"r": "UK"}]}, "mark": {"type": "text", "fontSize": 9, "color": "#1A1A1A"}, "encoding": {"text": {"field": "r", "type": "nominal"}}, "view": {"fill": "#D9D9D9", "stroke": "#333333"}},
       {"width": 197, "height": 137, "data": {"name": "vv"}, "transform": [{"filter": "datum.r == 'UK'"}],
        "mark": {"type": "line", "interpolate": "monotone", "strokeWidth": 1.1, "clip": true},
        "encoding": {
         "x": {"field": "x", "type": "quantitative", "scale": {"domain": [-4.7, 128], "nice": false, "zero": false},
               "axis": {"title": null, "values": [0,12.5,25,37.5,50,62.5,75,87.5,100,112.5,125], "labelExpr": "datum.value % 25 == 0 ? datum.label : ''", "tickColor": {"condition": {"test": "datum.value % 25 != 0", "value": "transparent"}, "value": "#333333"}, "gridWidth": {"condition": {"test": "datum.value % 25 != 0", "value": 0.5}, "value": 1}}},
         "y": {"field": "y", "type": "quantitative", "scale": {"domain": [-0.0043, 0.0899], "nice": false, "zero": false},
               "axis": {"title": "density", "format": ".2f", "values": [0,0.01,0.02,0.03,0.04,0.05,0.06,0.07,0.08], "labelExpr": "abs(datum.value/0.02 - round(datum.value/0.02)) < 0.01 ? datum.label : ''", "tickColor": {"condition": {"test": "abs(datum.value/0.02 - round(datum.value/0.02)) > 0.01", "value": "transparent"}, "value": "#333333"}, "gridWidth": {"condition": {"test": "abs(datum.value/0.02 - round(datum.value/0.02)) > 0.01", "value": 0.5}, "value": 1}}},
         "color": {"field": "d", "type": "nominal", "scale": {"domain": ["Desktop", "Mobile"], "range": ["#000000", "#E69F00"]}, "legend": {"title": "device", "orient": "none", "legendX": 415, "legendY": 64}}
        }}
      ]},
      {"spacing": 0, "vconcat": [
       {"width": 197, "height": 18, "data": {"values": [{"r": "US"}]}, "mark": {"type": "text", "fontSize": 9, "color": "#1A1A1A"}, "encoding": {"text": {"field": "r", "type": "nominal"}}, "view": {"fill": "#D9D9D9", "stroke": "#333333"}},
       {"width": 197, "height": 137, "data": {"name": "vv"}, "transform": [{"filter": "datum.r == 'US'"}],
        "mark": {"type": "line", "interpolate": "monotone", "strokeWidth": 1.1, "clip": true},
        "encoding": {
         "x": {"field": "x", "type": "quantitative", "scale": {"domain": [-4.7, 128], "nice": false, "zero": false},
               "axis": {"title": null, "values": [0,12.5,25,37.5,50,62.5,75,87.5,100,112.5,125], "labelExpr": "datum.value % 25 == 0 ? datum.label : ''", "tickColor": {"condition": {"test": "datum.value % 25 != 0", "value": "transparent"}, "value": "#333333"}, "gridWidth": {"condition": {"test": "datum.value % 25 != 0", "value": 0.5}, "value": 1}}},
         "y": {"field": "y", "type": "quantitative", "scale": {"domain": [-0.0043, 0.0899], "nice": false, "zero": false},
               "axis": {"title": null, "labels": false, "ticks": false, "values": [0,0.01,0.02,0.03,0.04,0.05,0.06,0.07,0.08], "gridWidth": {"condition": {"test": "abs(datum.value/0.02 - round(datum.value/0.02)) > 0.01", "value": 0.5}, "value": 1}}},
         "color": {"field": "d", "type": "nominal", "scale": {"domain": ["Desktop", "Mobile"], "range": ["#000000", "#E69F00"]}, "legend": {"title": "device", "orient": "none", "legendX": 415, "legendY": 64}}
        }}
      ]}
     ]
    }]
   }
  ]
 }
]
}
